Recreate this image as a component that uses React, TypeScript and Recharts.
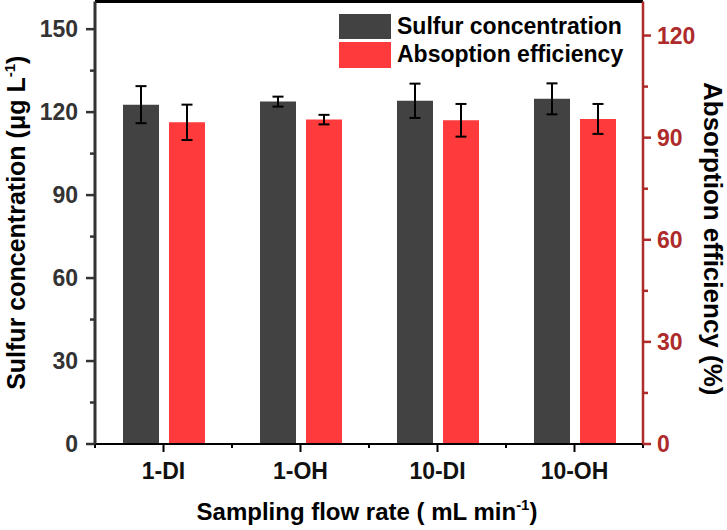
import React from "react";
import {
  ComposedChart,
  Bar,
  XAxis,
  YAxis,
  ErrorBar,
  ReferenceLine,
  Legend,
  Label,
} from "recharts";

const categories = ["1-DI", "1-OH", "10-DI", "10-OH"];
const sulfur = [122.7, 123.8, 124.1, 124.8];
const sulfurErr = [6.7, 1.8, 6.2, 5.6];
const efficiency = [94.5, 95.3, 95.1, 95.5];
const efficiencyErr = [5.2, 1.4, 4.8, 4.4];

const leftTicks = [0, 15, 30, 45, 60, 75, 90, 105, 120, 135, 150];
const rightTicks = [0, 15, 30, 45, 60, 75, 90, 105, 120];

const W = 727;
const H = 530;
const LEFT_W = 95;
const RIGHT_W = 84;
const BOTTOM_H = 86;
const TOP = 1.5;
const PLOT_W = W - LEFT_W - RIGHT_W;

const FONT = "'Liberation Sans', Arial, sans-serif";
const GRAY = "#424242";
const RED = "#FF3A3C";
const DARK_RED = "#AE2B2B";
const AXIS_GRAY = "#333333";

const data = categories.map((c, i) => ({
  name: c,
  sulfur: sulfur[i],
  sulfurErr: sulfurErr[i],
  efficiency: efficiency[i],
  efficiencyErr: efficiencyErr[i],
}));

const LT_SIZE = 9;
const LT_MARGIN = 8;
function LeftTick(props: any) {
  const { x, y, payload } = props;
  const axisX = x + LT_SIZE + LT_MARGIN;
  const major = payload.value % 30 === 0;
  return (
    <g>
      <line x1={axisX - (major ? 9 : 5)} x2={axisX} y1={y} y2={y} stroke={AXIS_GRAY} strokeWidth={2.5} />
      {major && (
        <text x={x} y={y} dy="0.36em" textAnchor="end" fill={AXIS_GRAY} fontSize={23} fontWeight={700} fontFamily={FONT}>
          {payload.value}
        </text>
      )}
    </g>
  );
}

const RT_SIZE = 8;
const RT_MARGIN = 6;
function RightTick(props: any) {
  const { x, y, payload } = props;
  const axisX = x - RT_SIZE - RT_MARGIN;
  const major = payload.value % 30 === 0;
  return (
    <g>
      <line x1={axisX} x2={axisX + (major ? 8 : 5)} y1={y} y2={y} stroke={DARK_RED} strokeWidth={2.5} />
      {major && (
        <text x={x} y={y} dy="0.36em" textAnchor="start" fill={DARK_RED} fontSize={23} fontWeight={700} fontFamily={FONT}>
          {payload.value}
        </text>
      )}
    </g>
  );
}

const XT_SIZE = 8;
const XT_MARGIN = 11;
function BottomTick(props: any) {
  const { x, y, payload, index } = props;
  const axisY = y - XT_SIZE - XT_MARGIN;
  const band = PLOT_W / categories.length;
  return (
    <g>
      <line x1={x} x2={x} y1={axisY} y2={axisY + 8} stroke="#000" strokeWidth={2} />
      <line x1={x - band / 2} x2={x - band / 2} y1={axisY} y2={axisY + 4} stroke="#000" strokeWidth={2} />
      {index === categories.length - 1 && (
        <line x1={x + band / 2} x2={x + band / 2} y1={axisY} y2={axisY + 4} stroke="#000" strokeWidth={2} />
      )}
      <text x={x} y={y} dy="0.71em" textAnchor="middle" fill="#111" fontSize={23} fontWeight={700} fontFamily={FONT}>
        {payload.value}
      </text>
    </g>
  );
}

const legendItems = [
  { name: "Sulfur concentration", color: GRAY },
  { name: "Absoption efficiency", color: RED },
];

function LegendBox() {
  return (
    <div style={{ fontFamily: FONT, fontWeight: 700, fontSize: 23, color: "#000" }}>
      {legendItems.map((it) => (
        <div key={it.name} style={{ display: "flex", alignItems: "center", height: 28.5 }}>
          <span style={{ display: "inline-block", width: 52, height: 25.5, background: it.color, marginRight: 6 }} />
          <span>{it.name}</span>
        </div>
      ))}
    </div>
  );
}

function LeftTitle(props: any) {
  const { viewBox } = props;
  const cx = viewBox.x + 16;
  const cy = viewBox.y + viewBox.height / 2;
  return (
    <text
      x={cx}
      y={cy}
      dy="0.36em"
      transform={`rotate(-90 ${cx} ${cy})`}
      textAnchor="middle"
      fontSize={25}
      fontWeight={700}
      fontFamily={FONT}
      fill="#000"
    >
      Sulfur concentration (μg L
      <tspan dy={-10} fontSize={15}>-1</tspan>
      <tspan dy={10}>)</tspan>
    </text>
  );
}

function RightTitle(props: any) {
  const { viewBox } = props;
  const cx = viewBox.x + 70;
  const cy = viewBox.y + viewBox.height / 2 + 16;
  return (
    <text
      x={cx}
      y={cy}
      dy="0.36em"
      transform={`rotate(90 ${cx} ${cy})`}
      textAnchor="middle"
      fontSize={26}
      fontWeight={700}
      fontFamily={FONT}
      fill="#000"
    >
      Absorption efficiency (%)
    </text>
  );
}

function BottomTitle(props: any) {
  const { viewBox } = props;
  const cx = viewBox.x + viewBox.width / 2 - 2;
  const cy = viewBox.y + 76;
  return (
    <text x={cx} y={cy} textAnchor="middle" fontSize={24} fontWeight={700} fontFamily={FONT} fill="#000">
      Sampling flow rate ( mL min
      <tspan dy={-10} fontSize={15}>-1</tspan>
      <tspan dy={10}>)</tspan>
    </text>
  );
}

export default function App() {
  return (
    <div style={{ width: W, height: H, background: "#fff" }}>
      <style>{"body{margin:0;background:#fff}"}</style>
      <ComposedChart
        width={W}
        height={H}
        data={data}
        margin={{ top: TOP, right: 0, left: 0, bottom: 0 }}
        barSize={36}
        barGap={10}
      >
        <XAxis
          dataKey="name"
          xAxisId="x"
          height={BOTTOM_H}
          axisLine={{ stroke: "#000", strokeWidth: 2 }}
          tickLine={false}
          tickSize={XT_SIZE}
          tickMargin={XT_MARGIN}
          tick={<BottomTick />}
          interval={0}
        >
          <Label content={<BottomTitle />} />
        </XAxis>
        <YAxis
          yAxisId="left"
          orientation="left"
          width={LEFT_W}
          domain={[0, 160]}
          ticks={leftTicks}
          interval={0}
          axisLine={{ stroke: AXIS_GRAY, strokeWidth: 3 }}
          tickLine={false}
          tickSize={LT_SIZE}
          tickMargin={LT_MARGIN}
          tick={<LeftTick />}
        >
          <Label content={<LeftTitle />} />
        </YAxis>
        <YAxis
          yAxisId="right"
          orientation="right"
          width={RIGHT_W}
          domain={[0, 130]}
          ticks={rightTicks}
          interval={0}
          axisLine={{ stroke: DARK_RED, strokeWidth: 2.5 }}
          tickLine={false}
          tickSize={RT_SIZE}
          tickMargin={RT_MARGIN}
          tick={<RightTick />}
        >
          <Label content={<RightTitle />} />
        </YAxis>
        <ReferenceLine yAxisId="left" xAxisId="x" y={160} stroke="#000" strokeWidth={3} />
        <Bar dataKey="sulfur" xAxisId="x" yAxisId="left" fill={GRAY} isAnimationActive={false}>
          <ErrorBar dataKey="sulfurErr" width={5.5} stroke="#000" strokeWidth={2} />
        </Bar>
        <Bar dataKey="efficiency" xAxisId="x" yAxisId="right" fill={RED} isAnimationActive={false}>
          <ErrorBar dataKey="efficiencyErr" width={5.5} stroke="#000" strokeWidth={2} />
        </Bar>
        <Legend
          layout="horizontal"
          align="center"
          verticalAlign="middle"
          wrapperStyle={{ left: 339, top: 12, width: 320, height: 60 }}
          content={<LegendBox />}
        />
      </ComposedChart>
    </div>
  );
}
